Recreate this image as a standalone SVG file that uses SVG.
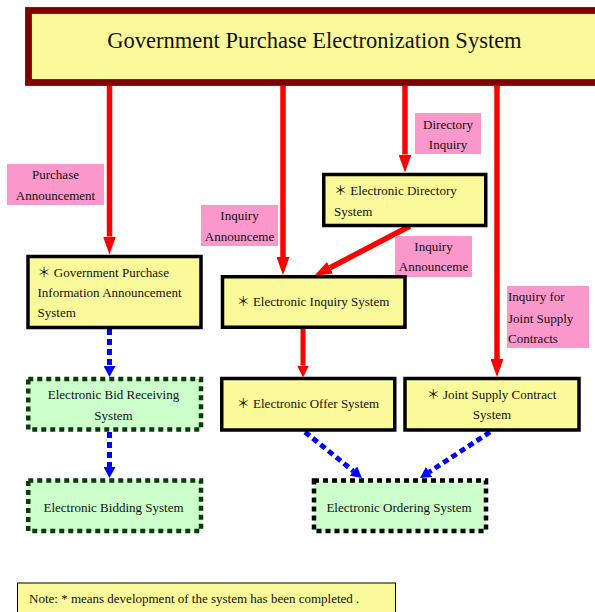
<svg xmlns="http://www.w3.org/2000/svg" width="595" height="612" viewBox="0 0 595 612">
<defs>
<style>
text{font-family:"Liberation Serif","Times New Roman","Noto Sans CJK TC",serif;font-size:13px;fill:#111;}
.title{font-size:22.5px;}
.c{text-anchor:middle;}
.sys{fill:#FBFA9A;stroke:#000;stroke-width:3.5;}
.todo{fill:#CCFFCC;stroke:#0B3A0B;stroke-width:4.5;stroke-dasharray:5 4;}
.todoK{fill:#CCFFCC;stroke:#000;stroke-width:4.5;stroke-dasharray:5 4;}
.lbl{fill:#FA98CC;}
.red{stroke:#FF0000;stroke-width:5.5;fill:none;}
.redS{stroke:#FF0000;stroke-width:5;fill:none;}
.blue{stroke:#0000FF;stroke-width:5;stroke-dasharray:6 4;fill:none;}
</style>
<marker id="rh" markerUnits="userSpaceOnUse" viewBox="0 0 18 13" refX="0" refY="6.5" markerWidth="18" markerHeight="13" orient="auto"><path d="M0,0 L18,6.5 L0,13 Z" fill="#FF0000"/></marker>
<marker id="rhs" markerUnits="userSpaceOnUse" viewBox="0 0 12 12" refX="0" refY="6" markerWidth="12" markerHeight="12" orient="auto"><path d="M0,0 L12,6 L0,12 Z" fill="#FF0000"/></marker>
<marker id="bh" markerUnits="userSpaceOnUse" viewBox="0 0 11 12" refX="0" refY="6" markerWidth="11" markerHeight="12" orient="auto"><path d="M0,0 L11,6 L0,12 Z" fill="#0000FF"/></marker>
</defs>
<rect width="595" height="612" fill="#FFFFFF"/>

<g id="main">
<rect x="28.5" y="10.5" width="580" height="72" fill="#FBFA9A" stroke="#800000" stroke-width="6.8"/>
<text class="title c" x="314.5" y="47.5">Government Purchase Electronization System</text>
</g>

<g id="connectors">
<line class="red" x1="109.5" y1="86" x2="109.5" y2="236.5" marker-end="url(#rh)"/>
<line class="red" x1="283" y1="86" x2="283" y2="257" marker-end="url(#rh)"/>
<line class="red" x1="405" y1="86" x2="405" y2="154.5" marker-end="url(#rh)"/>
<line class="red" x1="497" y1="86" x2="497" y2="359" marker-end="url(#rh)"/>
<line class="red" x1="410" y1="226" x2="330" y2="267.7" marker-end="url(#rh)"/>
<line class="redS" x1="303" y1="329" x2="303" y2="365.5" marker-end="url(#rhs)"/>
<line class="blue" x1="109.5" y1="329" x2="109.5" y2="366" marker-end="url(#bh)"/>
<line class="blue" x1="109.5" y1="432" x2="109.5" y2="467" marker-end="url(#bh)"/>
<line class="blue" x1="305" y1="432" x2="353.4" y2="471.1" marker-end="url(#bh)"/>
<line class="blue" x1="490" y1="432" x2="429.2" y2="472" marker-end="url(#bh)"/>
</g>

<g id="lbl-purchase">
<rect class="lbl" x="7" y="164" width="97" height="41"/>
<text class="c" x="55.5" y="179">Purchase</text>
<text class="c" x="55.5" y="199.5">Announcement</text>
</g>
<g id="lbl-inquiry-left">
<rect class="lbl" x="201" y="205" width="77" height="41"/>
<text class="c" x="239.5" y="220">Inquiry</text>
<text class="c" x="239.5" y="240.5">Announceme</text>
</g>
<g id="lbl-directory">
<rect class="lbl" x="415" y="113" width="66" height="41"/>
<text class="c" x="448" y="128.5">Directory</text>
<text class="c" x="448" y="149">Inquiry</text>
</g>
<g id="lbl-inquiry-right">
<rect class="lbl" x="395" y="236" width="77" height="41"/>
<text class="c" x="433.5" y="250.5">Inquiry</text>
<text class="c" x="433.5" y="270.5">Announceme</text>
</g>
<g id="lbl-joint">
<rect class="lbl" x="507" y="286" width="82" height="62"/>
<text x="508" y="301">Inquiry for</text>
<text x="508" y="322.5">Joint Supply</text>
<text x="508" y="342.5">Contracts</text>
</g>

<g id="gov-info">
<rect class="sys" x="28" y="256.5" width="173" height="71"/>
<text x="37.5" y="276.5">＊ Government Purchase</text>
<text x="37.5" y="297">Information Announcement</text>
<text x="37.5" y="317">System</text>
</g>
<g id="directory">
<rect class="sys" x="323.75" y="174.5" width="162" height="51"/>
<text x="334" y="194.5">＊ Electronic Directory</text>
<text x="334" y="216">System</text>
</g>
<g id="inquiry">
<rect class="sys" x="222.5" y="276.75" width="182.5" height="50.5"/>
<text class="c" x="313" y="306">＊ Electronic Inquiry System</text>
</g>
<g id="offer">
<rect class="sys" x="221.75" y="378.5" width="173" height="51.5"/>
<text class="c" x="308" y="407.5">＊ Electronic Offer System</text>
</g>
<g id="joint">
<rect class="sys" x="405" y="378.5" width="174" height="51.5"/>
<text class="c" x="491.5" y="398.5">＊ Joint Supply Contract</text>
<text class="c" x="492" y="419">System</text>
</g>
<g id="bid-receiving">
<rect class="todo" x="28.25" y="379" width="172.75" height="50.5"/>
<text class="c" x="113.5" y="399">Electronic Bid Receiving</text>
<text class="c" x="113.5" y="419.5">System</text>
</g>
<g id="bidding">
<rect class="todo" x="28.25" y="480.5" width="172.75" height="50.5"/>
<text class="c" x="113.5" y="511.5">Electronic Bidding System</text>
</g>
<g id="ordering">
<rect class="todoK" x="314" y="480.5" width="172" height="50.5"/>
<text class="c" x="399" y="511.5">Electronic Ordering System</text>
</g>
<g id="note">
<rect x="17.5" y="583" width="378" height="32" fill="#FBFA9A" stroke="#000" stroke-width="1"/>
<text x="29" y="603">Note: * means development of the system has been completed  .</text>
</g>
</svg>
